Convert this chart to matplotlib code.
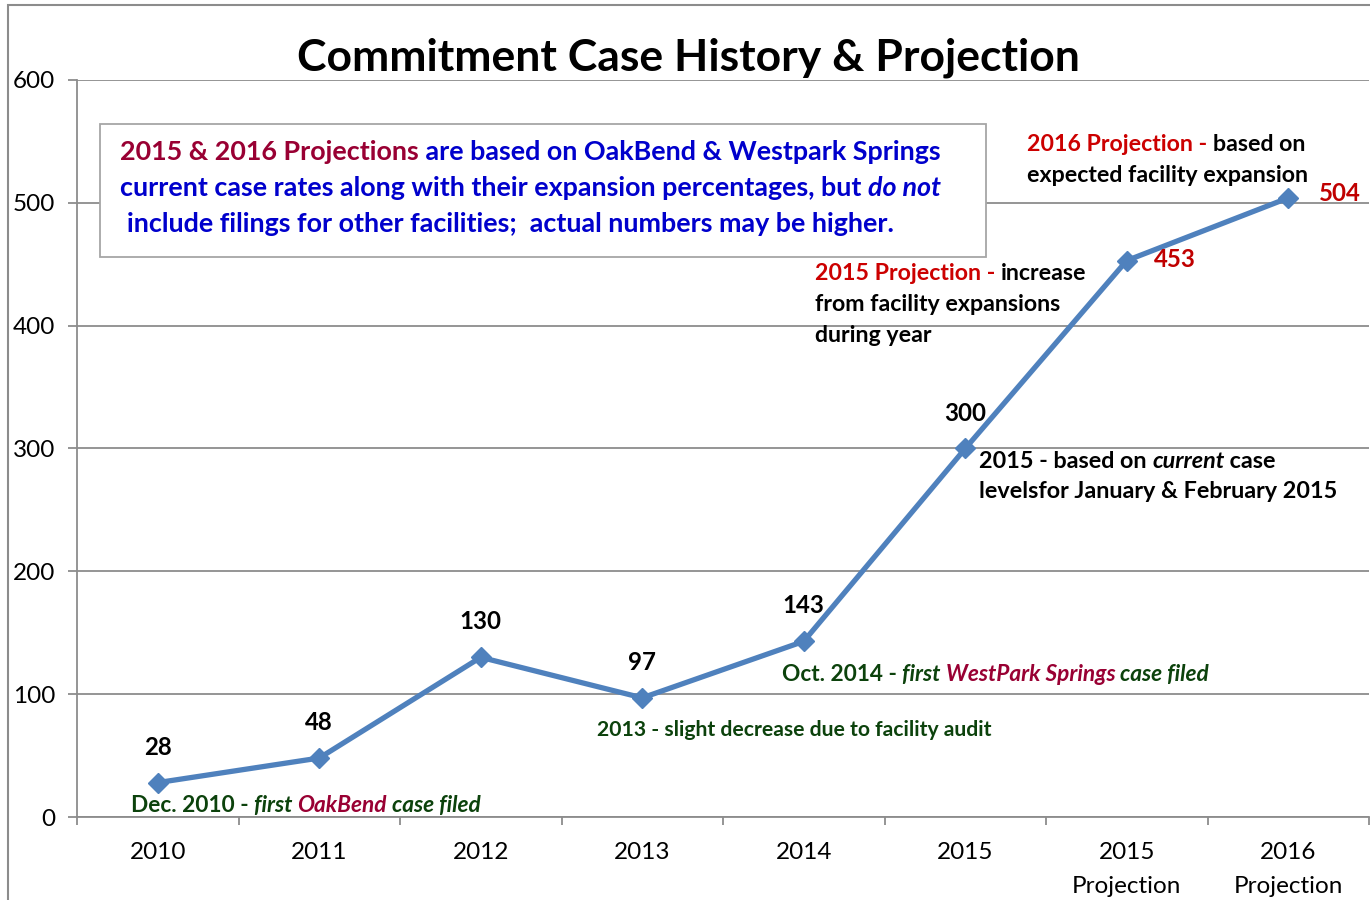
import matplotlib
matplotlib.use("Agg")
import matplotlib.pyplot as plt
from matplotlib.patches import Rectangle
import numpy as np

# Dane
categories = ["2010", "2011", "2012", "2013", "2014", "2015",
              "2015\nProjection", "2016\nProjection"]
cases = [28, 48, 130, 97, 143, 300, 453, 504]
label_colors = ["black"] * 6 + ["#C00000", "#C00000"]
yticks = [0, 100, 200, 300, 400, 500, 600]

LINE = "#4F81BD"
GRID = "#8C8C8C"
RED = "#CC0000"
MAROON = "#990033"
BLUE = "#0000CC"
GREEN = "#0C420C"

plt.rcParams['font.family'] = ['Lato', 'DejaVu Sans']

fig = plt.figure(figsize=(13.7, 9), dpi=100)
ax = fig.add_axes([77 / 1370, 83 / 900, 1292 / 1370, 737 / 900])

# ramka wokół wykresu
fig.add_artist(Rectangle((8 / 1370, -0.05), 1.1, (895 / 900) + 0.05,
                         transform=fig.transFigure, fill=False,
                         edgecolor=GRID, linewidth=1.5, clip_on=False))

x = np.arange(len(categories))
ax.plot(x, cases, color=LINE, linewidth=3.8, marker="D", markersize=10.5,
        markerfacecolor=LINE, markeredgecolor=LINE, zorder=5)

ax.set_xlim(-0.5, len(categories) - 0.5)
ax.set_ylim(0, 600)
ax.set_yticks(yticks)
ax.grid(axis="y", color=GRID, linewidth=1.3)
ax.set_axisbelow(True)
for s in ["top", "right"]:
    ax.spines[s].set_visible(False)
for s in ["left", "bottom"]:
    ax.spines[s].set_color(GRID)
    ax.spines[s].set_linewidth(1.3)

ax.tick_params(axis="y", length=6.5, width=1.3, color=GRID, pad=9,
               labelsize=17.5)
ax.set_xticks(np.arange(-0.5, len(categories), 1))
ax.set_xticklabels([])
ax.tick_params(axis="x", which="major", length=6, width=1.3, color=GRID)
ax.set_xticks(x, minor=True)
ax.set_xticklabels(categories, minor=True, fontsize=17.5, linespacing=1.75)
ax.tick_params(axis="x", which="minor", length=0, pad=18)

fig.text(688 / 1370, 1 - 58 / 900, "Commitment Case History & Projection",
         ha="center", va="center", fontsize=32, fontweight="bold")

# etykiety danych
offsets = [(0, 25.5)] * 6 + [(35, 1), (37, 3)]
for i, (v, c, off) in enumerate(zip(cases, label_colors, offsets)):
    ax.annotate(str(v), (i, v), xytext=off, textcoords="offset points",
                ha="center", va="center", fontsize=17.3, fontweight="bold",
                color=c, zorder=6)


def rich(xp, yp, parts, size, **kw):
    """Tekst z kilku kawałków w różnych kolorach/stylach, w jednej linii."""
    t = None
    for s, c, st in parts:
        if t is None:
            t = ax.text(xp, yp, s, color=c, style=st, fontsize=size,
                        ha="left", va="center", fontweight="bold", **kw)
        else:
            t = ax.annotate(s, xy=(1, 0.5), xycoords=t, color=c, style=st,
                            fontsize=size, ha="left", va="center",
                            fontweight="bold", **kw)
    return t


# ramka z opisem
ax.add_patch(Rectangle((-0.358, 455.9), 5.486, 108.3, facecolor="white",
                       edgecolor="#A6A6A6", linewidth=1.3, zorder=3))
rich(-0.234, 541.4, [("2015 & 2016 Projections", MAROON, "normal"),
                     (" are based on OakBend & Westpark Springs", BLUE, "normal")],
     19.4, zorder=4)
rich(-0.234, 512.1, [("current case rates along with their expansion percentages, but ", BLUE, "normal"),
                     ("do not", BLUE, "italic")], 19.4, zorder=4)
rich(-0.19, 482.8, [("include filings for other facilities;  actual numbers may be higher.", BLUE, "normal")],
     19.4, zorder=4)

# adnotacje
rich(5.382, 547.1, [("2016 Projection - ", RED, "normal"), ("based on", "black", "normal")], 16.7)
rich(5.382, 521.9, [("expected facility expansion", "black", "normal")], 16.7)

rich(4.07, 442.1, [("2015 Projection - ", RED, "normal"), ("increase", "black", "normal")], 16.7)
rich(4.07, 416.9, [("from facility expansions", "black", "normal")], 16.7)
rich(4.07, 391.6, [("during year", "black", "normal")], 16.7)

rich(5.085, 289.8, [("2015 - based on ", "black", "normal"), ("current", "black", "italic"),
                    (" case", "black", "normal")], 16.8)
rich(5.085, 265.4, [("levelsfor January & February 2015", "black", "normal")], 16.8)

rich(3.865, 116.4, [("Oct. 2014 - ", GREEN, "normal"), ("first ", GREEN, "italic"),
                    ("WestPark Springs", MAROON, "italic"), (" case filed", GREEN, "italic")], 16.3)
rich(2.72, 70.8, [("2013 - slight decrease due to facility audit", GREEN, "normal")], 15.2)
rich(-0.166, 9.0, [("Dec. 2010 - ", GREEN, "normal"), ("first ", GREEN, "italic"),
                   ("OakBend", MAROON, "italic"), (" case filed", GREEN, "italic")], 16.3)

fig.savefig("out.png", dpi=100)
